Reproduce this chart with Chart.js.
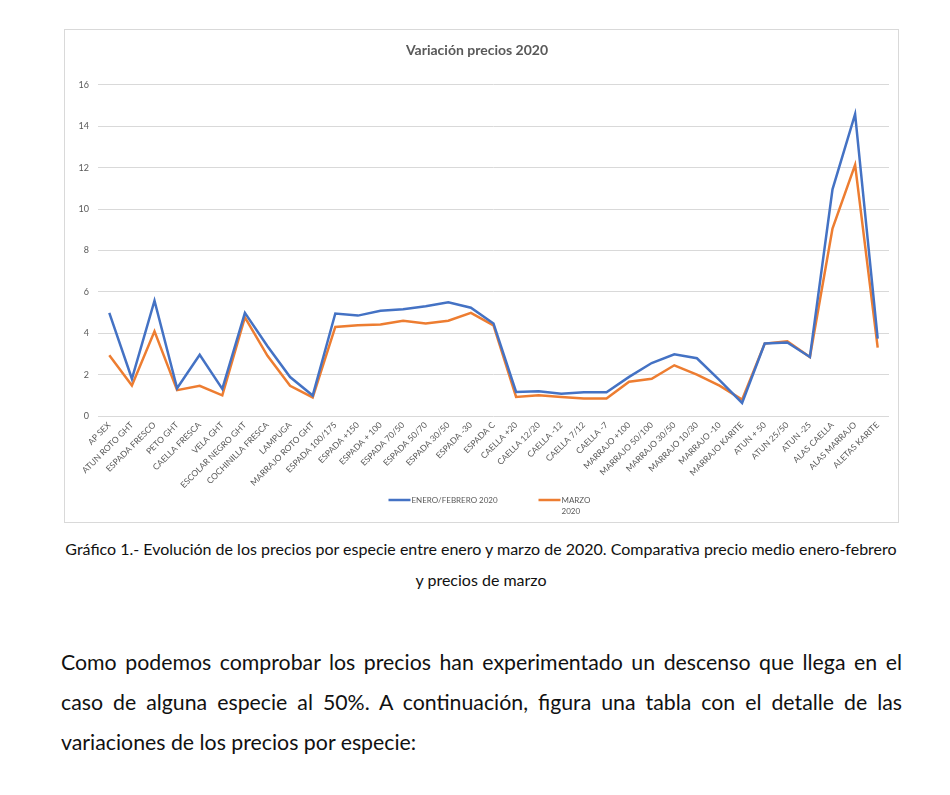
<!DOCTYPE html>
<html>
<head>
<meta charset="utf-8">
<script src="https://cdn.jsdelivr.net/npm/chart.js@4"></script>
<style>
  body { margin: 0; background: #fff; width: 950px; height: 795px; position: relative; font-family: Lato, "Open Sans", sans-serif; color: #111; }
  #marco { position: absolute; left: 64px; top: 29px; width: 833px; height: 492px; border: 1px solid #d9d9d9; }
  .pie { position: absolute; left: 64px; width: 834px; text-align: center; white-space: nowrap; font-size: 16px; line-height: 22px; }
  .parrafo { position: absolute; left: 61px; width: 841px; font-size: 21.3px; line-height: 26px; white-space: nowrap; }
  .just { text-align: justify; text-align-last: justify; white-space: normal; }
</style>
</head>
<body>
<div id="marco"><canvas id="grafico"></canvas></div>

<div class="pie" id="pie1" style="top:538px">Gráfico 1.- Evolución de los precios por especie entre enero y marzo de 2020. Comparativa precio medio enero-febrero</div>
<div class="pie" style="top:569px">y precios de marzo</div>

<div class="parrafo just" style="top:649px">Como podemos comprobar los precios han experimentado un descenso que llega en el</div>
<div class="parrafo just" style="top:689px">caso de alguna especie al 50%. A continuación, figura una tabla con el detalle de las</div>
<div class="parrafo" style="top:729px">variaciones de los precios por especie:</div>

<script>
// datos
let categorias = [
  "AP SEX", "ATUN ROTO GHT", "ESPADA FRESCO", "PETO GHT", "CAELLA FRESCA", "VELA GHT",
  "ESCOLAR NEGRO GHT", "COCHINILLA FRESCA", "LAMPUGA", "MARRAJO ROTO GHT",
  "ESPADA 100/175", "ESPADA +150", "ESPADA + 100", "ESPADA 70/50", "ESPADA 50/70",
  "ESPADA 30/50", "ESPADA -30", "ESPADA C", "CAELLA +20", "CAELLA 12/20", "CAELLA -12",
  "CAELLA 7/12", "CAELLA -7", "MARRAJO +100", "MARRAJO 50/100", "MARRAJO 30/50",
  "MARRAJO 10/30", "MARRAJO -10", "MARRAJO KARITE", "ATUN + 50", "ATUN 25/50",
  "ATUN -25", "ALAS CAELLA", "ALAS MARRAJO", "ALETAS KARITE"
];

let eneroFebrero = [
  4.98, 1.8, 5.57, 1.34, 2.96, 1.31, 4.98, 3.37, 1.88, 0.99,
  4.95, 4.85, 5.08, 5.16, 5.3, 5.49, 5.23, 4.47,
  1.16, 1.19, 1.08, 1.15, 1.15,
  1.89, 2.56, 2.98, 2.79, 1.73, 0.63,
  3.5, 3.55, 2.85, 10.95, 14.58, 3.74
];

let marzo = [
  2.93, 1.47, 4.09, 1.25, 1.46, 1.0, 4.76, 2.91, 1.46, 0.9,
  4.3, 4.38, 4.42, 4.6, 4.47, 4.6, 4.98, 4.38,
  0.92, 1.0, 0.92, 0.85, 0.85,
  1.66, 1.8, 2.45, 2.0, 1.47, 0.79,
  3.5, 3.61, 2.85, 9.06, 12.13, 3.3
];

let titulo = "Variación precios 2020";
let nombresSeries = [["ENERO/FEBRERO 2020"], ["MARZO", "2020"]];
let gris = "#595959";

// leyenda como la de excel (texto partido en dos lineas)
let leyenda = {
  id: "leyendaExcel",
  afterDraw(chart) {
    let ctx = chart.ctx;
    let centro = chart.width / 2;
    let y = 470;
    let inicios = [centro - 93, centro + 57];
    ctx.save();
    ctx.font = "8px Lato, sans-serif";
    ctx.fillStyle = gris;
    ctx.textBaseline = "middle";
    chart.data.datasets.forEach((ds, i) => {
      let x = inicios[i];
      ctx.strokeStyle = ds.borderColor;
      ctx.lineWidth = 2.5;
      ctx.beginPath();
      ctx.moveTo(x, y);
      ctx.lineTo(x + 22, y);
      ctx.stroke();
      nombresSeries[i].forEach((linea, j) => {
        ctx.fillText(linea, x + 23, y + j * 11);
      });
    });
    ctx.restore();
  }
};

let canvas = document.getElementById("grafico");

let chart = new Chart(canvas, {
  type: "line",
  data: {
    labels: categorias,
    datasets: [
      { label: nombresSeries[0].join(" "), data: eneroFebrero, borderColor: "#4472C4", backgroundColor: "#4472C4" },
      { label: nombresSeries[1].join(" "), data: marzo, borderColor: "#ED7D31", backgroundColor: "#ED7D31" }
    ]
  },
  plugins: [leyenda],
  options: {
    responsive: true,
    maintainAspectRatio: false,
    animation: false,
    layout: { padding: { left: 0, right: 9, top: 0, bottom: 0 } },
    elements: {
      line: { borderWidth: 2.5, tension: 0 },
      point: { radius: 0, hoverRadius: 0 }
    },
    plugins: {
      legend: { display: false },
      tooltip: { enabled: false },
      title: {
        display: true,
        text: titulo,
        color: gris,
        font: { family: "Lato, sans-serif", size: 14, weight: "bold" },
        padding: { top: 12, bottom: 26 }
      }
    },
    scales: {
      x: {
        offset: true,
        grid: { display: false, drawTicks: false },
        border: { display: false },
        afterFit: scale => { scale.height = 106; },
        ticks: {
          autoSkip: false,
          maxRotation: 45,
          minRotation: 45,
          padding: 4,
          color: gris,
          font: { family: "Lato, sans-serif", size: 8.5 }
        }
      },
      y: {
        min: 0,
        max: 16,
        grid: { color: "#d9d9d9", lineWidth: 1, drawTicks: false },
        border: { display: false },
        afterFit: scale => { scale.width = 33; },
        ticks: {
          stepSize: 2,
          padding: 9,
          color: gris,
          font: { family: "Lato, sans-serif", size: 9 }
        }
      }
    }
  }
});

// ajustar el pie de figura al ancho del marco
let pie1 = document.getElementById("pie1");
let tam = 18;
document.querySelectorAll(".pie").forEach(p => p.style.fontSize = tam + "px");
while (pie1.scrollWidth > 834 && tam > 10) {
  tam -= 0.1;
  document.querySelectorAll(".pie").forEach(p => p.style.fontSize = tam + "px");
}
</script>
</body>
</html>
